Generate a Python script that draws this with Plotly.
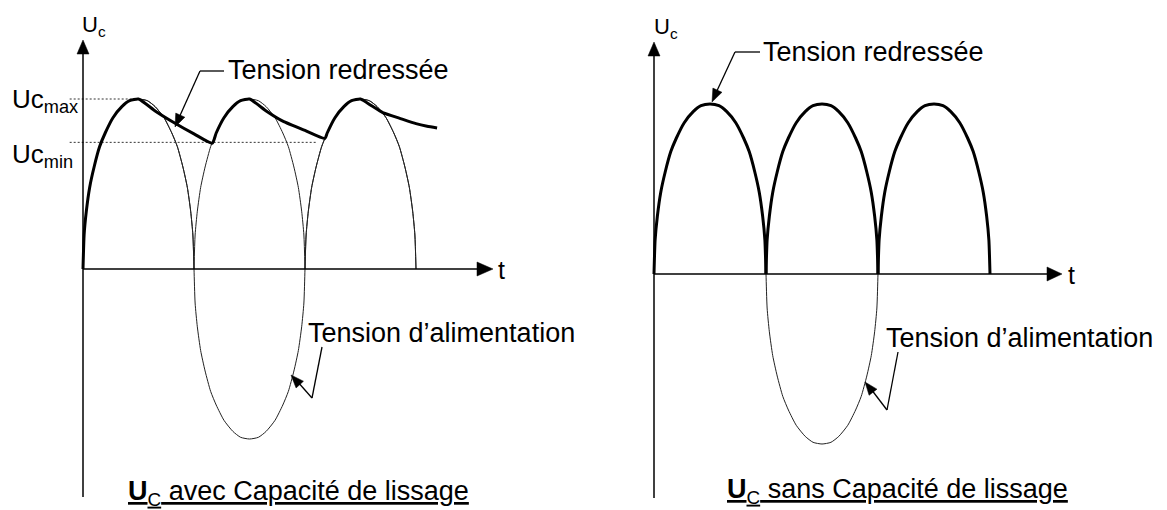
import plotly.graph_objects as go

# ---------------- data (t in half-periods, voltage normalised to peak) ----------------
# supply voltage (Tension d'alimentation), full sine drawn thin
supply_t = [0.00, 0.01, 0.03, 0.06, 0.10, 0.15, 0.20, 0.27, 0.35, 0.42, 0.50, 0.58, 0.65, 0.73, 0.80, 0.85, 0.90, 0.94, 0.97, 0.99, 1.00,
            1.01, 1.03, 1.06, 1.10, 1.15, 1.20, 1.27, 1.35, 1.42, 1.50, 1.58, 1.65, 1.73, 1.80, 1.85, 1.90, 1.94, 1.97, 1.99, 2.00,
            2.01, 2.03, 2.06, 2.10, 2.15, 2.20, 2.27, 2.35, 2.42, 2.50, 2.58, 2.65, 2.73, 2.80, 2.85, 2.90, 2.94, 2.97, 2.99, 3.00]
supply_v = [0.00, 0.20, 0.34, 0.48, 0.60, 0.72, 0.80, 0.89, 0.955, 0.99, 1.00, 0.99, 0.955, 0.89, 0.80, 0.72, 0.60, 0.48, 0.34, 0.20, 0.00,
            -0.20, -0.34, -0.48, -0.60, -0.72, -0.80, -0.89, -0.955, -0.99, -1.00, -0.99, -0.955, -0.89, -0.80, -0.72, -0.60, -0.48, -0.34, -0.20, 0.00,
            0.20, 0.34, 0.48, 0.60, 0.72, 0.80, 0.89, 0.955, 0.99, 1.00, 0.99, 0.955, 0.89, 0.80, 0.72, 0.60, 0.48, 0.34, 0.20, 0.00]

# rectified half-waves (None separates the arcs)
rect_t = [0.00, 0.01, 0.03, 0.06, 0.10, 0.15, 0.20, 0.27, 0.35, 0.42, 0.50, 0.58, 0.65, 0.73, 0.80, 0.85, 0.90, 0.94, 0.97, 0.99, 1.00, None,
          1.00, 1.01, 1.03, 1.06, 1.10, 1.15, 1.20, 1.27, 1.35, 1.42, 1.50, 1.58, 1.65, 1.73, 1.80, 1.85, 1.90, 1.94, 1.97, 1.99, 2.00, None,
          2.00, 2.01, 2.03, 2.06, 2.10, 2.15, 2.20, 2.27, 2.35, 2.42, 2.50, 2.58, 2.65, 2.73, 2.80, 2.85, 2.90, 2.94, 2.97, 2.99, 3.00]
rect_v = [0.00, 0.20, 0.34, 0.48, 0.60, 0.72, 0.80, 0.89, 0.955, 0.99, 1.00, 0.99, 0.955, 0.89, 0.80, 0.72, 0.60, 0.48, 0.34, 0.20, 0.00, None,
          0.00, 0.20, 0.34, 0.48, 0.60, 0.72, 0.80, 0.89, 0.955, 0.99, 1.00, 0.99, 0.955, 0.89, 0.80, 0.72, 0.60, 0.48, 0.34, 0.20, 0.00, None,
          0.00, 0.20, 0.34, 0.48, 0.60, 0.72, 0.80, 0.89, 0.955, 0.99, 1.00, 0.99, 0.955, 0.89, 0.80, 0.72, 0.60, 0.48, 0.34, 0.20, 0.00]

# smoothed voltage with capacitor (Tension redressée, left)
smooth_t = [0.00, 0.01, 0.03, 0.06, 0.10, 0.15, 0.20, 0.27, 0.35, 0.42, 0.50, 0.65, 0.81, 1.00, 1.165,
            1.20, 1.27, 1.35, 1.42, 1.50, 1.65, 1.80, 2.00, 2.18,
            2.20, 2.27, 2.35, 2.42, 2.50, 2.60, 2.70, 2.86, 3.00, 3.10, 3.19]
smooth_v = [0.00, 0.20, 0.34, 0.48, 0.60, 0.72, 0.80, 0.89, 0.955, 0.99, 1.00, 0.93, 0.865, 0.795, 0.74,
            0.80, 0.89, 0.955, 0.99, 1.00, 0.93, 0.87, 0.815, 0.768,
            0.80, 0.89, 0.955, 0.99, 1.00, 0.96, 0.92, 0.885, 0.855, 0.84, 0.83]

uc_max = 1.00
uc_min = 0.745
ref_t_start = -0.12
uc_max_t_end = 0.51
uc_min_t_end = 2.11

# texts
lbl_axis_y = "U<sub>c</sub>"
lbl_axis_t = "t"
lbl_redressee = "Tension redressée"
lbl_alim = "Tension d’alimentation"
lbl_ucmax = "Uc<sub>max</sub>"
lbl_ucmin = "Uc<sub>min</sub>"
title_left = "<u><b>U</b><sub>C</sub> avec Capacité de lissage</u>"
title_right = "<u><b>U</b><sub>C</sub> sans Capacité de lissage</u>"

# ---------------- layout geometry (pixels) ----------------
W, H = 1167, 510
L_X0, L_TS, L_Y0, L_VS = 83, 111, 269, 170
R_X0, R_TS, R_Y0, R_VS = 654, 112, 274, 170
FONT = "Liberation Sans, Arial, sans-serif"
BLACK = "#000000"


def px(x):
    return x / W


def py(y):
    return 1 - y / H


fig = go.Figure()

# left panel traces
fig.add_trace(go.Scatter(x=supply_t, y=supply_v, mode="lines", line=dict(color="#222", width=1, shape="spline", smoothing=0.6),
                         xaxis="x", yaxis="y", hoverinfo="skip"))
fig.add_trace(go.Scatter(x=rect_t, y=rect_v, mode="lines", line=dict(color="#222", width=1, shape="spline", smoothing=0.6),
                         xaxis="x", yaxis="y", connectgaps=False, hoverinfo="skip"))
fig.add_trace(go.Scatter(x=[ref_t_start, uc_max_t_end], y=[uc_max, uc_max], mode="lines",
                         line=dict(color="#333", width=1, dash="2px,2px"), xaxis="x", yaxis="y", hoverinfo="skip"))
fig.add_trace(go.Scatter(x=[ref_t_start, uc_min_t_end], y=[uc_min, uc_min], mode="lines",
                         line=dict(color="#333", width=1, dash="2px,2px"), xaxis="x", yaxis="y", hoverinfo="skip"))
fig.add_trace(go.Scatter(x=smooth_t, y=smooth_v, mode="lines", line=dict(color=BLACK, width=3, shape="spline", smoothing=0.5),
                         xaxis="x", yaxis="y", hoverinfo="skip"))

# right panel traces
fig.add_trace(go.Scatter(x=supply_t, y=supply_v, mode="lines", line=dict(color="#222", width=1, shape="spline", smoothing=0.6),
                         xaxis="x2", yaxis="y2", hoverinfo="skip"))
fig.add_trace(go.Scatter(x=rect_t, y=rect_v, mode="lines", line=dict(color=BLACK, width=3, shape="spline", smoothing=0.6),
                         xaxis="x2", yaxis="y2", connectgaps=False, hoverinfo="skip"))

shapes = []


def seg(x0, y0, x1, y1, w=1.5):
    shapes.append(dict(type="line", xref="paper", yref="paper", x0=px(x0), y0=py(y0), x1=px(x1), y1=py(y1),
                       line=dict(color=BLACK, width=w)))


def head(tipx, tipy, fromx, fromy, length=14, half=6):
    dx, dy = tipx - fromx, tipy - fromy
    n = (dx * dx + dy * dy) ** 0.5
    ux, uy = dx / n, dy / n
    bx, by = tipx - ux * length, tipy - uy * length
    p1 = (bx - uy * half, by + ux * half)
    p2 = (bx + uy * half, by - ux * half)
    path = "M{},{} L{},{} L{},{} Z".format(px(tipx), py(tipy), px(p1[0]), py(p1[1]), px(p2[0]), py(p2[1]))
    shapes.append(dict(type="path", xref="paper", yref="paper", path=path,
                       fillcolor=BLACK, line=dict(color=BLACK, width=0.5)))


# axes
seg(83, 497, 83, 50)
head(83, 40, 83, 60, length=14, half=6)
seg(83, 269, 482, 269)
head(493, 269, 470, 269, length=16, half=7)
seg(654, 498, 654, 52)
head(654, 42, 654, 60, length=14, half=6)
seg(654, 274, 1050, 274)
head(1062, 274, 1040, 274, length=15, half=7)

# leaders
seg(224, 71, 200, 71, w=1.3)
seg(200, 71, 178, 120, w=1.3)
head(175, 127, 200, 71, length=13, half=5)
seg(760, 52, 735, 52, w=1.3)
seg(735, 52, 715, 95, w=1.3)
head(712, 102, 735, 52, length=13, half=5)
seg(322, 347, 312, 398, w=1.3)
seg(312, 398, 297, 381, w=1.3)
head(291, 375, 312, 398, length=13, half=5)
seg(898, 352, 887, 410, w=1.3)
seg(887, 410, 871, 389, w=1.3)
head(865, 382, 887, 410, length=13, half=5)

annotations = []


def text(x, y, s, size=27, xanchor="left", yanchor="middle"):
    annotations.append(dict(x=px(x), y=py(y), xref="paper", yref="paper", text=s, showarrow=False,
                            xanchor=xanchor, yanchor=yanchor, font=dict(family=FONT, size=size, color=BLACK)))


text(80, 26, lbl_axis_y, size=22)
text(652, 28, lbl_axis_y, size=22)
text(496, 270, lbl_axis_t, size=25)
text(1066, 275, lbl_axis_t, size=25)
text(226, 70, lbl_redressee)
text(761, 52, lbl_redressee)
text(306, 333, lbl_alim)
text(884, 338, lbl_alim)
text(10, 101, lbl_ucmax, size=26)
text(10, 155, lbl_ucmin, size=26)
text(126, 493, title_left)
text(725, 491, title_right)

fig.update_layout(
    width=W, height=H, margin=dict(l=0, r=0, t=0, b=0),
    paper_bgcolor="white", plot_bgcolor="white", showlegend=False,
    xaxis=dict(domain=[0, 0.5], range=[(0 - L_X0) / L_TS, (W / 2 - L_X0) / L_TS], visible=False, fixedrange=True),
    yaxis=dict(domain=[0, 1], range=[(L_Y0 - H) / L_VS, L_Y0 / L_VS], visible=False, fixedrange=True),
    xaxis2=dict(domain=[0.5, 1], range=[(W / 2 - R_X0) / R_TS, (W - R_X0) / R_TS], visible=False, fixedrange=True),
    yaxis2=dict(domain=[0, 1], range=[(R_Y0 - H) / R_VS, R_Y0 / R_VS], visible=False, fixedrange=True, anchor="x2"),
    shapes=shapes, annotations=annotations,
)

fig.write_html("out.html", config={"displayModeBar": False},
               post_script="document.body.style.margin='0';document.body.style.overflow='hidden';")
